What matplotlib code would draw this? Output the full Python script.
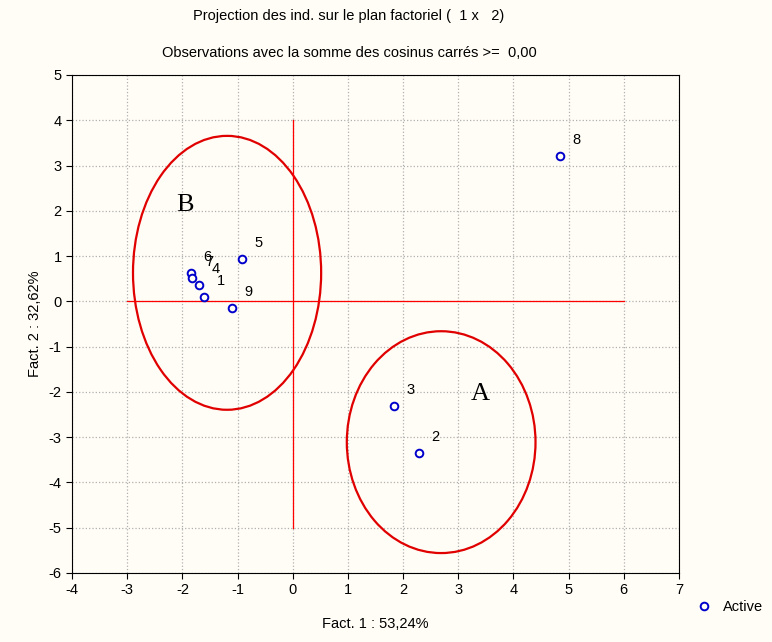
import numpy as np
import matplotlib.pyplot as plt
from matplotlib.patches import Ellipse

plt.rcParams['font.family'] = ['Liberation Sans', 'DejaVu Sans']
plt.rcParams['axes.unicode_minus'] = False

# coordonnees des individus sur le plan factoriel (1 x 2)
labels = ['1', '2', '3', '4', '5', '6', '7', '8', '9']
fact1 = [-1.60, 2.29, 1.83, -1.70, -0.92, -1.84, -1.82, 4.84, -1.10]
fact2 = [0.10, -3.35, -2.31, 0.36, 0.94, 0.62, 0.52, 3.21, -0.15]

# groupes entoures (centre x, centre y, largeur, hauteur, lettre)
groups = ['A', 'B']
grp_cx = [2.69, -1.19]
grp_cy = [-3.11, 0.63]
grp_w = [3.42, 3.41]
grp_h = [4.90, 6.05]
grp_lx = [3.39, -1.95]
grp_ly = [-2.04, 2.13]

bg = '#fffdf5'
fig = plt.figure(figsize=(7.72, 6.42), dpi=100, facecolor=bg)
ax = fig.add_axes([0.0933, 0.1075, 0.7862, 0.7757], facecolor=bg)

ax.set_xlim(-4, 7)
ax.set_ylim(-6, 5)
ax.set_xticks(np.arange(-4, 8, 1))
ax.set_yticks(np.arange(-6, 6, 1))
ax.grid(True, color='#b0b0b0', linestyle=':', linewidth=0.9)
ax.set_axisbelow(True)
ax.tick_params(labelsize=10.5, direction='out', length=4)
for s in ax.spines.values():
    s.set_linewidth(0.8)

# axes des facteurs
ax.plot([-3, 6], [0, 0], color='red', linewidth=0.9)
ax.plot([0, 0], [4, -5], color='red', linewidth=0.9)

# ellipses
for i in range(len(groups)):
    e = Ellipse((grp_cx[i], grp_cy[i]), grp_w[i], grp_h[i], fill=False,
                edgecolor='#e00000', linewidth=1.6)
    ax.add_patch(e)
    ax.text(grp_lx[i], grp_ly[i], groups[i], fontsize=19, family='Liberation Serif',
            ha='center', va='center')

# points
ax.plot(fact1, fact2, linestyle='none', marker='o', markersize=5.5,
        markerfacecolor=bg, markeredgecolor='#0000cc', markeredgewidth=1.4,
        label='Active')
for lab, x, y in zip(labels, fact1, fact2):
    ax.annotate(lab, (x, y), xytext=(9, 11.5), textcoords='offset points',
                fontsize=10.5, ha='left', va='center')

ax.set_xlabel('Fact. 1 : 53,24%', fontsize=10.5, labelpad=14)
ax.set_ylabel('Fact. 2 : 32,62%', fontsize=10.5, labelpad=5)

fig.text(0.452, 0.975, 'Projection des ind. sur le plan factoriel (  1 x   2)',
         ha='center', va='center', fontsize=10.5)
fig.text(0.452, 0.918, 'Observations avec la somme des cosinus carrés >=  0,00',
         ha='center', va='center', fontsize=10.5)

# legende
fig.legend(loc='lower left', bbox_to_anchor=(0.886, 0.035), frameon=False,
           fontsize=10.5, handletextpad=0.3, borderaxespad=0)

fig.savefig('out.png', dpi=100, facecolor=bg)
